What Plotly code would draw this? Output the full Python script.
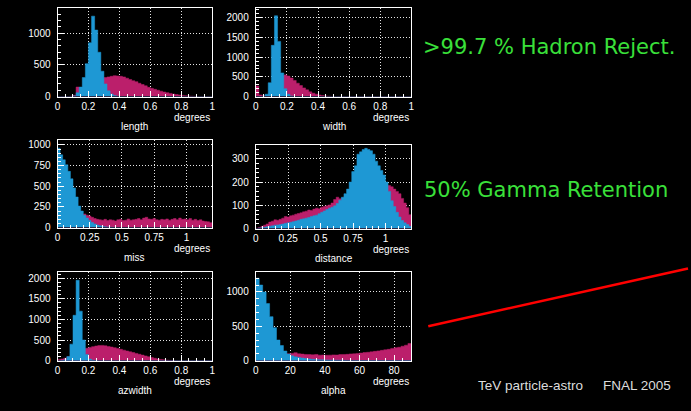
import numpy as np
import plotly.graph_objects as go

# ---------------- data ----------------
# length: 50 bins over [0,1]
length_gamma = [0,0,0,0,0,10,60,150,300,520,850,1270,1050,700,400,200,90,40,15,5,
                0,0,0,0,0,0,0,0,0,0,0,0,0,0,0,0,0,0,0,0,0,0,0,0,0,0,0,0,0,0]
length_hadron = [0,0,0,0,5,20,150,140,130,140,160,190,220,260,290,300,310,320,330,325,
                 320,310,290,270,250,235,210,190,170,145,130,115,100,85,72,62,50,40,32,25,
                 18,12,8,5,3,0,0,0,0,0]
# width: 50 bins over [0,1]
width_gamma = [0,0,5,60,350,1300,2050,1400,600,200,60,15,0,0,0,0,0,0,0,0,
               0,0,0,0,0,0,0,0,0,0,0,0,0,0,0,0,0,0,0,0,0,0,0,0,0,0,0,0,0,0]
width_hadron = [270,40,20,30,60,120,250,420,530,550,520,470,410,340,280,220,170,120,85,60,
                40,25,15,8,4,0,0,0,0,0,0,0,0,0,0,0,0,0,0,0,0,0,0,0,0,0,0,0,0,0]
# miss: 60 bins over [0,1.2]
miss_gamma = [960,880,820,760,680,590,480,370,260,200,150,115,85,62,45,32,22,15,10,7,
              5,3,2,1,1,0,0,0,0,0,0,0,0,0,0,0,0,0,0,0,0,0,0,0,0,0,0,0,0,0,
              0,0,0,0,0,0,0,0,0,0]
miss_hadron = [130,135,140,140,145,150,150,155,160,160,165,150,140,125,110,100,95,90,100,85,
               95,90,80,95,100,85,90,105,90,95,100,110,95,115,125,105,100,110,95,90,
               100,95,105,90,100,110,95,115,100,105,95,110,90,100,85,95,80,75,70,60]
# distance: 60 bins over [0,1.2]
distance_gamma = [0,2,4,6,8,10,12,15,16,18,20,23,25,27,30,33,36,40,42,45,
                  48,52,55,58,64,70,76,82,88,92,98,108,122,135,150,170,200,245,270,320,
                  330,340,345,340,335,320,290,270,250,230,200,160,120,95,70,50,35,25,18,10]
distance_hadron = [2,5,10,15,20,28,32,38,36,40,45,52,50,55,58,62,65,68,72,75,
                   80,78,84,88,85,92,95,98,102,110,125,135,128,132,138,142,145,150,155,158,
                   160,165,168,170,172,175,178,180,182,185,188,185,180,170,160,150,130,110,90,60]
# azwidth: 50 bins over [0,1]
azwidth_gamma = [0,5,20,100,400,1100,1950,1200,500,150,40,10,3,0,0,0,0,0,0,0,
                 0,0,0,0,0,0,0,0,0,0,0,0,0,0,0,0,0,0,0,0,0,0,0,0,0,0,0,0,0,0]
azwidth_hadron = [30,40,60,90,120,160,200,240,280,300,320,340,355,365,370,360,345,330,315,295,
                  275,255,235,215,195,175,155,135,115,95,75,58,42,30,20,12,6,3,0,0,
                  0,0,0,0,0,0,0,0,0,0]
# alpha: 45 bins over [0,90]
alpha_gamma = [1200,1100,1000,830,640,480,300,220,140,95,70,55,45,38,30,25,20,17,14,12,
               10,9,8,7,6,5,4,3,3,2,2,2,2,1,1,1,1,1,1,1,1,1,1,1,1]
alpha_hadron = [120,115,115,110,115,110,105,110,105,100,105,115,100,95,90,88,85,90,80,82,
                78,80,84,82,88,90,92,98,100,105,110,118,122,128,135,142,150,158,165,178,
                188,195,210,225,250]

panel_names = ["length", "width", "miss", "distance", "azwidth", "alpha"]
x_ranges = [[0, 1], [0, 1], [0, 1.2], [0, 1.2], [0, 1], [0, 90]]
y_ranges = [[0, 1400], [0, 2250], [0, 1060], [0, 360], [0, 2150], [0, 1290]]
x_ticks = [[0, 0.2, 0.4, 0.6, 0.8, 1], [0, 0.2, 0.4, 0.6, 0.8, 1],
           [0, 0.25, 0.5, 0.75, 1], [0, 0.25, 0.5, 0.75, 1],
           [0, 0.2, 0.4, 0.6, 0.8, 1], [0, 20, 40, 60, 80]]
x_ticklabels = [["0", "0.2", "0.4", "0.6", "0.8", "1"], ["0", "0.2", "0.4", "0.6", "0.8", "1"],
                ["0", "0.25", "0.5", "0.75", "1"], ["0", "0.25", "0.5", "0.75", "1"],
                ["0", "0.2", "0.4", "0.6", "0.8", "1"], ["0", "20", "40", "60", "80"]]
y_ticks = [[0, 500, 1000], [0, 500, 1000, 1500, 2000], [0, 250, 500, 750, 1000],
           [0, 100, 200, 300], [0, 500, 1000, 1500, 2000], [0, 500, 1000]]
gammas = [length_gamma, width_gamma, miss_gamma, distance_gamma, azwidth_gamma, alpha_gamma]
hadrons = [length_hadron, width_hadron, miss_hadron, distance_hadron, azwidth_hadron, alpha_hadron]
x_minor = [0.05, 0.05, 0.05, 0.05, 0.05, 5]
y_minor = [100, 100, 50, 20, 100, 100]

# ---------------- style ----------------
BLUE = "#1e98d4"
MAGENTA = "#bb1f6b"
GREEN = "#3ae03a"
x_domains = [[0.0796, 0.3054], [0.369, 0.5962]] * 3
y_domains = [[0.7616, 0.9805], [0.7616, 0.9805],
             [0.4380, 0.6545], [0.4355, 0.6423],
             [0.1095, 0.3285], [0.1095, 0.3285]]

fig = go.Figure()
FONT = "Liberation Sans, Arial, sans-serif"
tickfont = dict(family=FONT, size=10, color="white")


def step_xy(vals, lo, hi):
    n = len(vals)
    edges = np.linspace(lo, hi, n + 1)
    return edges, list(vals) + [vals[-1]]


for i in range(6):
    xa = "x" if i == 0 else f"x{i+1}"
    ya = "y" if i == 0 else f"y{i+1}"
    lo, hi = x_ranges[i]
    for vals, col in ((hadrons[i], MAGENTA), (gammas[i], BLUE)):
        ex, ey = step_xy(vals, lo, hi)
        fig.add_trace(go.Scatter(x=ex, y=ey, mode="lines", line=dict(shape="hv", width=0.5, color=col),
                                 fill="tozeroy", fillcolor=col, xaxis=xa, yaxis=ya,
                                 showlegend=False, hoverinfo="skip"))
    axsuffix = "" if i == 0 else str(i + 1)
    common = dict(showline=True, linecolor="white", linewidth=1, mirror=True,
                  showgrid=True, gridcolor="rgba(255,255,255,0.9)", griddash="1px,2px", gridwidth=1,
                  zeroline=False, ticks="inside", ticklen=6, tickcolor="white",
                  tickfont=tickfont)
    fig.layout["xaxis" + axsuffix] = dict(domain=x_domains[i], anchor=ya, range=x_ranges[i],
                                          tickvals=x_ticks[i], ticktext=x_ticklabels[i],
                                          ticklabelstandoff=0,
                                          minor=dict(ticks="inside", ticklen=3, tickcolor="white",
                                                     dtick=x_minor[i], showgrid=False),
                                          **common)
    fig.layout["yaxis" + axsuffix] = dict(domain=y_domains[i], anchor=xa, range=y_ranges[i],
                                          tickvals=y_ticks[i], ticklabelstandoff=4,
                                          minor=dict(ticks="inside", ticklen=3, tickcolor="white",
                                                     dtick=y_minor[i], showgrid=False),
                                          **common)
    fig.add_annotation(text="degrees", xref=xa + " domain", yref=ya + " domain", x=1, y=0,
                       xanchor="right", yanchor="middle", yshift=-21, showarrow=False,
                       font=dict(family=FONT, size=10, color="white"))
    fig.add_annotation(text=panel_names[i], xref=xa + " domain", yref=ya + " domain", x=0.5, y=0,
                       xanchor="center", yanchor="middle", yshift=-30, showarrow=False,
                       font=dict(family=FONT, size=10, color="white"))

# Green texts
GFONT = "Comic Sans MS, DejaVu Sans, sans-serif"
fig.add_annotation(text=">99.7 % Hadron Reject.", xref="paper", yref="paper", x=422 / 691, y=1 - 48 / 411,
                   xanchor="left", yanchor="middle", showarrow=False,
                   font=dict(family=GFONT, size=21, color=GREEN))
fig.add_annotation(text="50% Gamma Retention", xref="paper", yref="paper", x=423 / 691, y=1 - 193 / 411,
                   xanchor="left", yanchor="middle", showarrow=False,
                   font=dict(family=GFONT, size=21, color=GREEN))
# footer
fig.add_annotation(text="TeV particle-astro", xref="paper", yref="paper", x=477 / 691, y=1 - 391 / 411,
                   xanchor="left", yanchor="middle", showarrow=False,
                   font=dict(family=FONT, size=13.5, color="#dcdcdc"))
fig.add_annotation(text="FNAL 2005", xref="paper", yref="paper", x=603 / 691, y=1 - 391 / 411,
                   xanchor="left", yanchor="middle", showarrow=False,
                   font=dict(family=FONT, size=13.5, color="#dcdcdc"))
# red line
fig.add_shape(type="line", xref="paper", yref="paper", x0=429 / 691, y0=1 - 331 / 411,
              x1=1.0, y1=1 - 272.5 / 411, line=dict(color="#ff0000", width=2.5))

fig.update_layout(width=691, height=411, margin=dict(l=0, r=0, t=0, b=0),
                  paper_bgcolor="black", plot_bgcolor="black",
                  showlegend=False)

fig.write_html("out.html")
